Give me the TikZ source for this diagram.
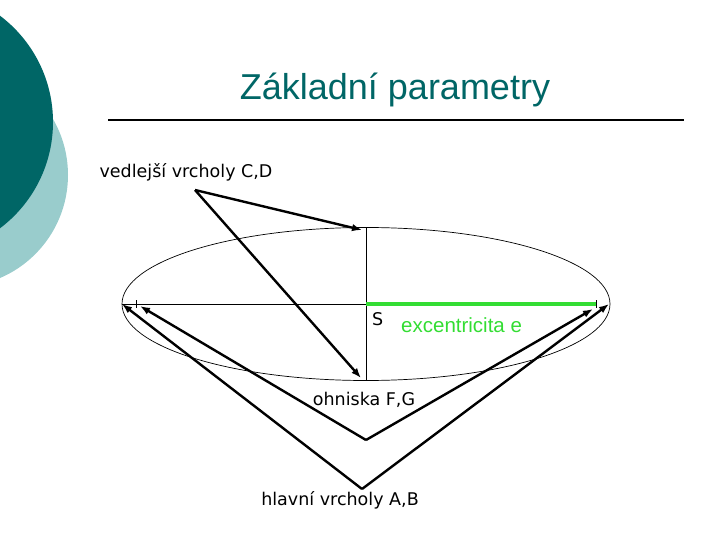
\documentclass[tikz,border=0pt]{standalone}
\usepackage{fontspec}
\setmainfont{Liberation Sans}
\newfontfamily\labelfont{DejaVu Sans}
\usepackage{tikz}
\usetikzlibrary{arrows.meta}
\definecolor{tealdark}{RGB}{0,102,102}
\definecolor{teallight}{RGB}{153,204,204}
\definecolor{eccgreen}{RGB}{51,221,51}
\tikzset{pointer it/.style={-{Latex[length=10pt,width=7.5pt]}, line width=2.4}}
\tikzset{label it/.style={font=\labelfont\fontsize{17.5}{20}\selectfont, inner sep=0}}

\begin{document}
\begin{tikzpicture}[x=1pt,y=-1pt]
\useasboundingbox (0,0) rectangle (720,540);
\fill[teallight] (-44,175) circle (112);
\fill[tealdark] (-80,122) circle (133);
\node[text=tealdark, font=\fontsize{36}{42}\selectfont, inner sep=0] (title) at (395,90) {Základní parametry};
\draw [-, line width=2](108,120) -- (684,120);
\coordinate (S) at (366,304);
\coordinate (A) at (122,304);
\coordinate (B) at (609,304);
\coordinate (C) at (366,228);
\coordinate (D) at (366,381);
\coordinate (F) at (136,304);
\coordinate (G) at (596,304);
\draw [line width=0.7] (S) ellipse (244 and 76.5);
\draw [-, line width=1](A) -- (S);
\draw [-, line width=1](C) -- (D);
\draw [-, line width=3.2, eccgreen](S) -- (G);
\draw [-, line width=0.7](F) ++(0,-4) -- ++(0,8);
\draw [-, line width=0.7](G) ++(0,-4) -- ++(0,8);
\node[label it] (cd) at (186,172) {vedlejší vrcholy C,D};
\coordinate (cdtip) at (195,190);
\draw [pointer it](cdtip) -- (362,230);
\draw [pointer it](cdtip) -- (361,378);
\node[label it, anchor=west] (s) at (372,319) {S};
\node[text=eccgreen, font=\fontsize{20.5}{24}\selectfont, inner sep=0, anchor=west] (ecc) at (401,325) {excentricita e};
\node[label it] (fg) at (364,400) {ohniska F,G};
\coordinate (fgtip) at (366,440);
\draw [pointer it](fgtip) -- (140,306);
\draw [pointer it](fgtip) -- (593,309);
\node[label it] (ab) at (340,500) {hlavní vrcholy A,B};
\coordinate (abtip) at (362,489);
\draw [pointer it](abtip) -- (A);
\draw [pointer it](abtip) -- (B);
\end{tikzpicture}
\end{document}
